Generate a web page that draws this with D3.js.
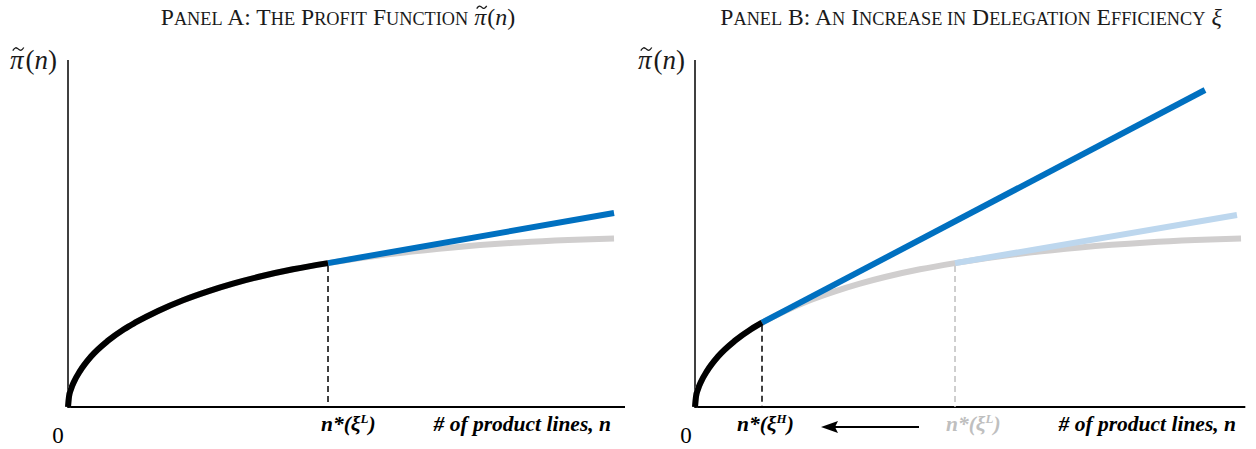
<!DOCTYPE html>
<html>
<head>
<meta charset="utf-8">
<script src="https://cdn.jsdelivr.net/npm/d3@7"></script>
<style>
  html, body { margin: 0; padding: 0; background: #fff; }
  svg { display: block; }
</style>
</head>
<body>
<svg id="chart" width="1256" height="449"></svg>
<script>
// ---------------- data ----------------
// profit function pi~(n) (grey curve): n = number of product lines, v = profit (arbitrary units)
const curveN = [0, 0.18, 0.54, 1.08, 2.15, 4.13, 7.18, 10.05, 12.03, 16.16, 20.65, 25.13, 29.62, 34.11, 40.39, 46.68, 57.45, 69.12, 81.15, 89.77, 98.03];
const curveV = [0, 2.97, 5.16, 7.29, 10.35, 14.55, 19.11, 22.42, 24.29, 27.69, 30.78, 33.34, 35.56, 37.46, 39.68, 41.47, 43.98, 45.99, 47.41, 48.10, 48.56];
// optimal number of product lines
const nStarL = 46.68;   // n*(xi^L)
const nStarH = 12.03;   // n*(xi^H)
// linear (blue) lines beyond the optimum: [n, value]
const blueA_N = [46.68, 98.03];
const blueA_V = [41.47, 55.91];
const blueB_N = [12.03, 91.56];
const blueB_V = [24.29, 91.35];
const lightB_N = [46.68, 97.3];
const lightB_V = [41.47, 55.33];
// text
const titleA = "Panel A: The Profit Function";
const titleB = "Panel B: An Increase in Delegation Efficiency";
const xAxisLabel = "# of product lines, n";

// ---------------- setup ----------------
const svg = d3.select("#chart");
const W = 1256, H = 449;
svg.append("rect").attr("width", W).attr("height", H).attr("fill", "#fff");

const BLUE = "#0070C0", LIGHTBLUE = "#BDD7EE", GREY = "#D0CECE", GREYDASH = "#BFBFBF", GREYTXT = "#BFBFBF";
const SERIF = "'Liberation Serif', 'Times New Roman', serif";
const INK = "#1a1a1a";

const curve = curveN.map((n, i) => [n, curveV[i]]);
const vAt = n => curve.find(d => d[0] === n)[1];

const y = d3.scaleLinear().domain([0, 100]).range([407, 60]);
const xA = d3.scaleLinear().domain([0, 100]).range([68, 625]);
const xB = d3.scaleLinear().domain([0, 100]).range([695, 1252]);

function makeLine(x) {
  return d3.line().x(d => x(d[0])).y(d => y(d[1])).curve(d3.curveMonotoneX);
}

function drawAxes(g, x, axisEndN) {
  g.append("line").attr("x1", x(0)).attr("x2", x(0)).attr("y1", y(0) + 1).attr("y2", y(100))
    .attr("stroke", "#000").attr("stroke-width", 1.5);
  g.append("line").attr("x1", x(0)).attr("x2", x(axisEndN)).attr("y1", y(0)).attr("y2", y(0))
    .attr("stroke", "#000").attr("stroke-width", 2);
}

// draw a tilde (as a path) above a tspan's first character; baseline = text baseline
function addTilde(g, tspan, baseline, fontSize, w) {
  const ext = tspan.node().getExtentOfChar(0);
  const cx = ext.x + ext.width / 2 + 1.5;
  const cy = baseline - fontSize * 0.74;
  const h = w * 0.28;
  g.append("path")
    .attr("d", `M${cx - w / 2},${cy + h / 2} C${cx - w / 4},${cy - h} ${cx - w / 8},${cy - h / 4} ${cx},${cy}` +
               ` S${cx + w / 4},${cy + h} ${cx + w / 2},${cy - h / 2}`)
    .attr("fill", "none").attr("stroke", INK).attr("stroke-width", 1.3);
}

function yLabel(g, xPos) {
  const base = 69, fs = 27;
  const t = g.append("text").attr("x", xPos).attr("y", base)
    .attr("font-family", SERIF).attr("font-size", fs).attr("fill", INK);
  const p = t.append("tspan").attr("font-style", "italic").text("π");
  t.append("tspan").attr("dx", 2).text("(");
  t.append("tspan").attr("font-style", "italic").text("n");
  t.append("tspan").text(")");
  addTilde(g, p, base, fs, 11);
}

function smallCapsTitle(g, cx, str) {
  const big = 23.6, small = 18.3;
  const t = g.append("text").attr("x", cx).attr("y", 25).attr("text-anchor", "middle")
    .attr("font-family", SERIF).attr("fill", INK);
  str.split(" ").forEach((w, wi) => {
    const pre = wi > 0 ? " " : "";
    const first = w[0];
    if (/[A-Z]/.test(first)) {
      t.append("tspan").attr("font-size", big).text(pre + first);
      const rest = w.slice(1);
      if (rest) {
        const m = rest.match(/^([a-z]*)(.*)$/);
        if (m[1]) t.append("tspan").attr("font-size", small).text(m[1].toUpperCase());
        if (m[2]) t.append("tspan").attr("font-size", big).text(m[2]);
      }
    } else {
      t.append("tspan").attr("font-size", small).text(pre + w.toUpperCase());
    }
  });
  return t;
}

function nStarLabel(g, xPos, sup, color) {
  const t = g.append("text").attr("x", xPos).attr("y", 431)
    .attr("font-family", SERIF).attr("font-weight", "bold")
    .attr("font-style", "italic").attr("font-size", 21.5).attr("fill", color);
  t.append("tspan").text("n*(ξ");
  t.append("tspan").attr("font-size", 13).attr("dy", -8).text(sup);
  t.append("tspan").attr("dy", 8).text(")");
}

function axisLabel(g, xEnd) {
  g.append("text").attr("x", xEnd).attr("y", 431).attr("text-anchor", "end")
    .attr("font-family", SERIF).attr("font-weight", "bold")
    .attr("font-style", "italic").attr("font-size", 21.5).text(xAxisLabel);
}

function zeroLabel(g, xPos) {
  g.append("text").attr("x", xPos).attr("y", 443).attr("text-anchor", "middle")
    .attr("font-family", SERIF).attr("font-size", 23).text("0");
}

// ---------------- Panel A ----------------
const gA = svg.append("g");
{
  const t = smallCapsTitle(gA, 338, titleA);
  t.append("tspan").attr("font-size", 23.6).text(" ");
  const p = t.append("tspan").attr("font-size", 24).attr("font-style", "italic").text("π");
  t.append("tspan").attr("font-size", 24).attr("dx", 1).text("(");
  t.append("tspan").attr("font-size", 24).attr("font-style", "italic").text("n");
  t.append("tspan").attr("font-size", 24).text(")");
  addTilde(gA, p, 25, 24, 10);
}
drawAxes(gA, xA, 100);
yLabel(gA, 10);
const lineA = makeLine(xA);
gA.append("path").attr("d", lineA(curve)).attr("fill", "none").attr("stroke", GREY).attr("stroke-width", 6);
gA.append("path").attr("d", lineA(blueA_N.map((n, i) => [n, blueA_V[i]])))
  .attr("fill", "none").attr("stroke", BLUE).attr("stroke-width", 6);
gA.append("path").attr("d", lineA(curve.filter(d => d[0] <= nStarL)))
  .attr("fill", "none").attr("stroke", "#000").attr("stroke-width", 6);
gA.append("line").attr("x1", xA(nStarL)).attr("x2", xA(nStarL)).attr("y1", y(vAt(nStarL)) + 3).attr("y2", y(0))
  .attr("stroke", "#000").attr("stroke-width", 1.5).attr("stroke-dasharray", "6,4");
zeroLabel(gA, 58);
nStarLabel(gA, 321, "L", "#000");
axisLabel(gA, 611);

// ---------------- Panel B ----------------
const gB = svg.append("g");
{
  const t = smallCapsTitle(gB, 971, titleB);
  t.append("tspan").attr("font-size", 23.6).text(" ");
  t.append("tspan").attr("font-size", 24).attr("font-style", "italic").text("ξ");
}
drawAxes(gB, xB, 98.8);
yLabel(gB, 638);
const lineB = makeLine(xB);
gB.append("path").attr("d", lineB(curve)).attr("fill", "none").attr("stroke", GREY).attr("stroke-width", 6);
gB.append("path").attr("d", lineB(lightB_N.map((n, i) => [n, lightB_V[i]])))
  .attr("fill", "none").attr("stroke", LIGHTBLUE).attr("stroke-width", 6);
gB.append("path").attr("d", lineB(blueB_N.map((n, i) => [n, blueB_V[i]])))
  .attr("fill", "none").attr("stroke", BLUE).attr("stroke-width", 6);
gB.append("path").attr("d", lineB(curve.filter(d => d[0] <= nStarH)))
  .attr("fill", "none").attr("stroke", "#000").attr("stroke-width", 6);
gB.append("line").attr("x1", xB(nStarH)).attr("x2", xB(nStarH)).attr("y1", y(vAt(nStarH)) + 3).attr("y2", y(0))
  .attr("stroke", "#000").attr("stroke-width", 1.5).attr("stroke-dasharray", "6,4");
gB.append("line").attr("x1", xB(nStarL)).attr("x2", xB(nStarL)).attr("y1", y(vAt(nStarL)) + 3).attr("y2", y(0))
  .attr("stroke", GREYDASH).attr("stroke-width", 1.5).attr("stroke-dasharray", "6,4");
zeroLabel(gB, 686);
nStarLabel(gB, 737, "H", "#000");
nStarLabel(gB, 946, "L", GREYTXT);
axisLabel(gB, 1236);
// arrow from n*(xi^L) back towards n*(xi^H)
const arrowY = 427, arrowTip = 821, arrowTail = 919;
gB.append("line").attr("x1", arrowTail).attr("x2", arrowTip + 12).attr("y1", arrowY).attr("y2", arrowY)
  .attr("stroke", "#000").attr("stroke-width", 2);
gB.append("path")
  .attr("d", `M${arrowTip},${arrowY} L${arrowTip + 17},${arrowY - 6} L${arrowTip + 14},${arrowY} L${arrowTip + 17},${arrowY + 6} Z`)
  .attr("fill", "#000");
</script>
</body>
</html>
